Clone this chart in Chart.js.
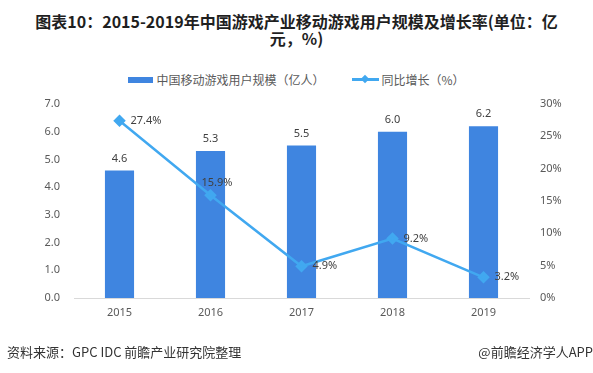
<!DOCTYPE html>
<html>
<head>
<meta charset="utf-8">
<script src="https://cdn.jsdelivr.net/npm/chart.js@4.4.0/dist/chart.umd.min.js"></script>
<style>
  body { margin: 0; background: #fff; }
  #wrap { position: relative; width: 593px; height: 373px; overflow: hidden; font-family: "Noto Sans CJK SC", "Noto Sans", sans-serif; }
  #chart { position: absolute; left: 0; top: 0; }
  .title { position: absolute; left: 0; width: 593px; text-align: center; font-weight: bold; font-size: 16px; color: #1f1f1f; line-height: 16px; }
  .legend { position: absolute; top: 71px; left: 0; width: 593px; display: flex; justify-content: center; align-items: center; font-size: 12px; color: #595959; height: 17px; }
  .legend .item { display: flex; align-items: center; }
  .legend .box { width: 25px; height: 6px; background: #3F85E0; margin-right: 3px; }
  .legend .ln { position: relative; width: 27px; height: 2.5px; background: #41A8F0; margin-right: 2px; }
  .legend .ln i { position: absolute; left: 10px; top: -2.5px; width: 6px; height: 6px; background: #41A8F0; transform: rotate(45deg); }
  .foot { position: absolute; top: 343px; font-size: 13px; color: #333; line-height: 18px; }
</style>
</head>
<body>
<div id="wrap">
  <div class="title" style="top:13px;">图表10：2015-2019年中国游戏产业移动游戏用户规模及增长率(单位：亿</div>
  <div class="title" style="top:30px;">元，%)</div>
  <div class="legend">
    <div class="item"><span class="box"></span><span>中国移动游戏用户规模（亿人）</span></div>
    <div class="item" style="margin-left:28px;"><span class="ln"><i></i></span><span>同比增长（%）</span></div>
  </div>
  <canvas id="chart" width="593" height="373"></canvas>
  <div class="foot" style="left:7px;">资料来源：GPC IDC 前瞻产业研究院整理</div>
  <div class="foot" style="right:0;">@前瞻经济学人APP</div>
</div>
<script>
const years = ["2015", "2016", "2017", "2018", "2019"];
const users = [4.6, 5.3, 5.5, 6.0, 6.2];
const growth = [27.4, 15.9, 4.9, 9.2, 3.2];
const leftTicks = [0, 1, 2, 3, 4, 5, 6, 7];
const rightTicks = [0, 5, 10, 15, 20, 25, 30];

const tickFont = { family: "Noto Sans", size: 11 };

// value labels on bars and line points
const valueLabels = {
  id: "valueLabels",
  afterDatasetsDraw(chart) {
    const ctx = chart.ctx;
    ctx.save();
    ctx.font = "11px 'Noto Sans'";
    ctx.fillStyle = "#404040";
    ctx.textBaseline = "middle";
    chart.getDatasetMeta(0).data.forEach((bar, i) => {
      ctx.textAlign = "center";
      ctx.fillText(users[i].toFixed(1), bar.x, bar.y - 12);
    });
    chart.getDatasetMeta(1).data.forEach((pt, i) => {
      ctx.textAlign = "left";
      let dx = 11, dy = 0;
      if (i === 1) { dx = -9; dy = -12; }
      ctx.fillText(growth[i].toFixed(1) + "%", pt.x + dx, pt.y + dy);
    });
    ctx.restore();
  }
};

new Chart(document.getElementById("chart"), {
  type: "bar",
  data: {
    labels: years,
    datasets: [
      {
        type: "bar",
        label: "中国移动游戏用户规模（亿人）",
        data: users,
        backgroundColor: "#3F85E0",
        categoryPercentage: 1,
        barPercentage: 0.32,
        yAxisID: "y",
        order: 2
      },
      {
        type: "line",
        label: "同比增长（%）",
        data: growth,
        borderColor: "#41A8F0",
        backgroundColor: "#41A8F0",
        borderWidth: 2.5,
        pointStyle: "rectRot",
        pointRadius: 4.5,
        pointBackgroundColor: "#41A8F0",
        pointBorderColor: "#41A8F0",
        yAxisID: "y1",
        order: 1
      }
    ]
  },
  options: {
    responsive: false,
    animation: false,
    devicePixelRatio: 1,
    layout: { padding: { top: 104, left: 0, right: 0, bottom: 0 } },
    plugins: {
      legend: { display: false },
      tooltip: { enabled: false }
    },
    scales: {
      x: {
        grid: { display: false, drawTicks: false },
        border: { display: true, color: "#d9d9d9", width: 1 },
        ticks: { color: "#595959", font: tickFont, padding: 8 },
        afterFit: (s) => { s.height = 75; }
      },
      y: {
        position: "left",
        min: 0,
        max: 7,
        afterBuildTicks: (s) => { s.ticks = leftTicks.map((v) => ({ value: v })); },
        grid: { display: false, drawTicks: false },
        border: { display: false },
        ticks: { color: "#595959", font: tickFont, padding: 14, callback: (v) => Number(v).toFixed(1) },
        afterFit: (s) => { s.width = 74; }
      },
      y1: {
        position: "right",
        min: 0,
        max: 30,
        afterBuildTicks: (s) => { s.ticks = rightTicks.map((v) => ({ value: v })); },
        grid: { display: false, drawTicks: false },
        border: { display: false },
        ticks: { color: "#595959", font: tickFont, padding: 11, callback: (v) => v + "%" },
        afterFit: (s) => { s.width = 64; }
      }
    }
  },
  plugins: [valueLabels]
});
</script>
</body>
</html>
